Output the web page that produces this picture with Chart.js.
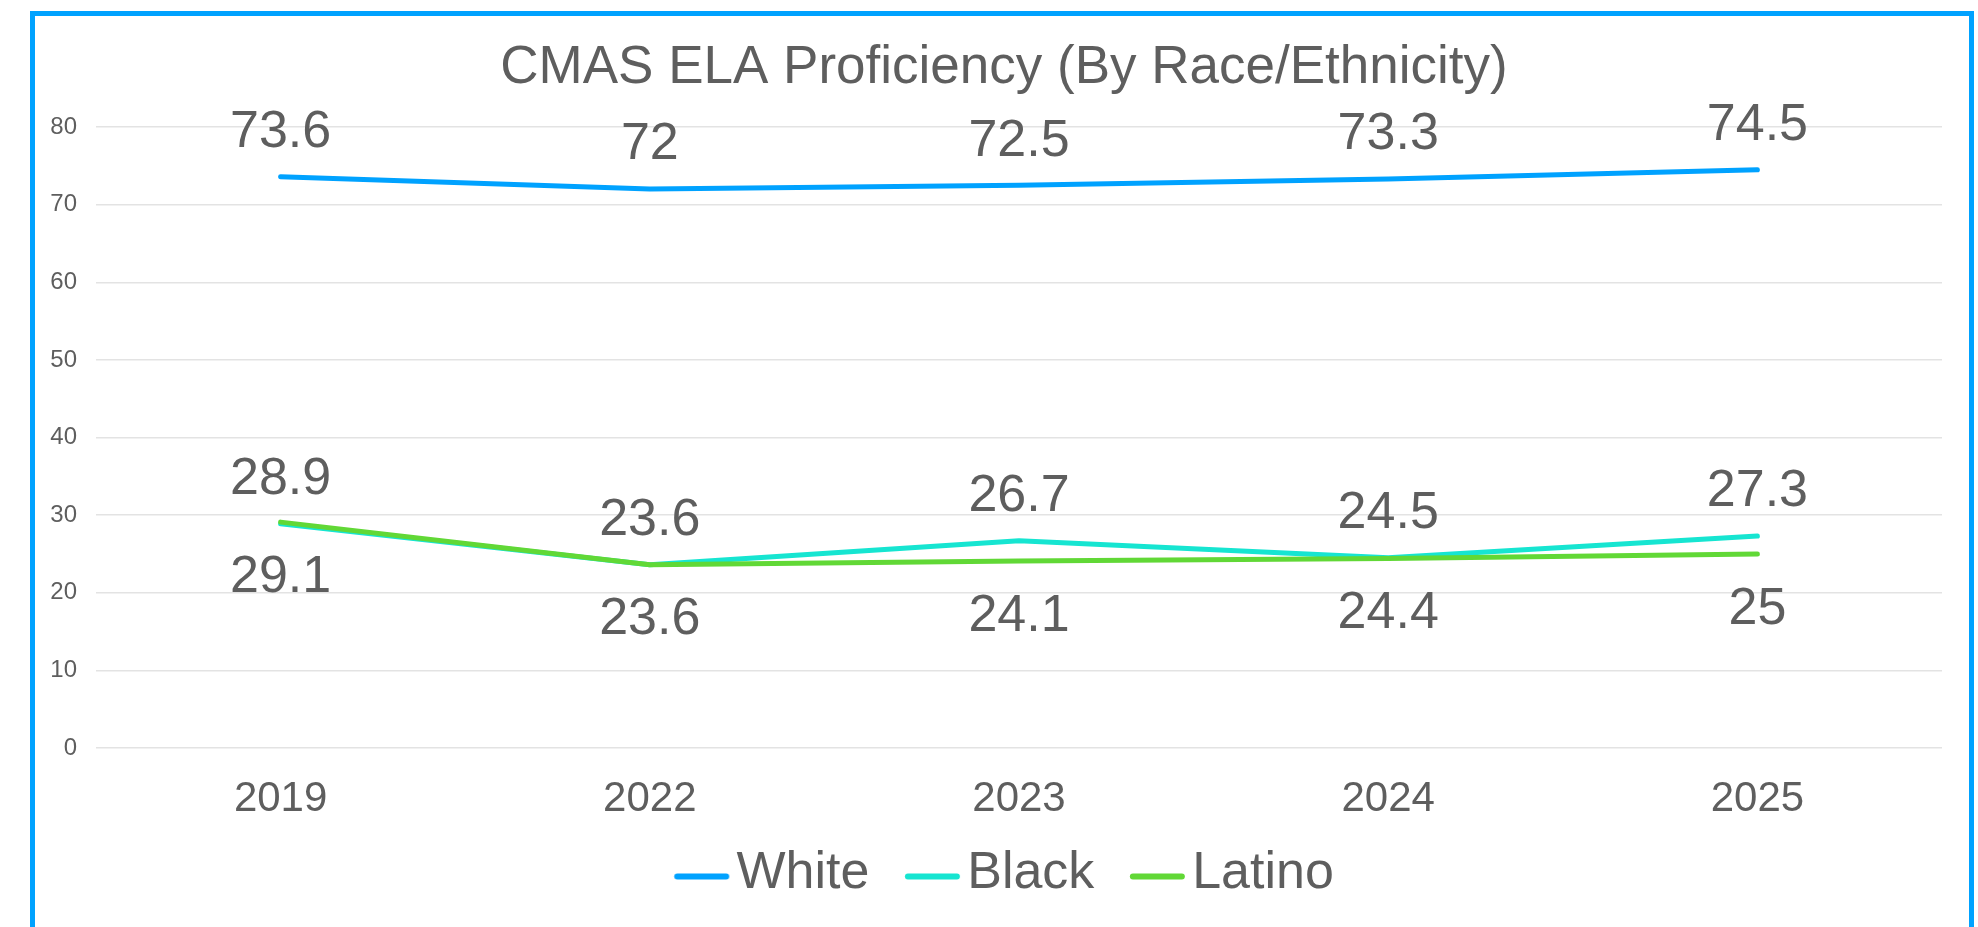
<!DOCTYPE html>
<html>
<head>
<meta charset="utf-8">
<script src="https://cdn.jsdelivr.net/npm/chart.js@4.4.1/dist/chart.umd.min.js"></script>
<style>
  html, body { margin: 0; padding: 0; width: 1978px; height: 927px; overflow: hidden; background: #ffffff; }
  #wrap { position: absolute; left: 0; top: 0; width: 1978px; height: 927px; }
  #frame { position: absolute; left: 30px; top: 11px; width: 1934px; height: 1000px; border: 5px solid #00A2FF; pointer-events: none; }
</style>
</head>
<body>
<div id="wrap"><canvas id="c" width="1978" height="927"></canvas></div>
<div id="frame"></div>
<script>
const years = ['2019', '2022', '2023', '2024', '2025'];
const whiteVals = [73.6, 72, 72.5, 73.3, 74.5];
const blackVals = [28.9, 23.6, 26.7, 24.5, 27.3];
const latinoVals = [29.1, 23.6, 24.1, 24.4, 25];
const seriesNames = ['White', 'Black', 'Latino'];
const labelSide = [-1, -1, 1]; // -1 above the point, 1 below
const titleText = 'CMAS ELA Proficiency (By Race/Ethnicity)';

const FONT = "'Liberation Sans', Arial, Helvetica, sans-serif";
const TEXT = '#5e5e5e';
const colors = ['#00A2FF', '#16E5D1', '#61D836'];

function swatch(color) {
  const c = document.createElement('canvas');
  c.width = 110; c.height = 20;
  const g = c.getContext('2d');
  g.strokeStyle = color;
  g.lineWidth = 6;
  g.lineCap = 'round';
  g.beginPath();
  g.moveTo(36.85 + 3, 12.5);
  g.lineTo(91.85 - 3, 12.5);
  g.stroke();
  return c;
}
const swatches = colors.map(swatch);

const titleDraw = {
  id: 'titleDraw',
  afterDraw(chart) {
    const ctx = chart.ctx;
    ctx.save();
    ctx.font = '53px ' + FONT;
    ctx.fillStyle = TEXT;
    ctx.textAlign = 'center';
    ctx.textBaseline = 'alphabetic';
    ctx.fillText(titleText, (chart.legend.left + chart.legend.right) / 2, 83);
    ctx.restore();
  }
};

const valueLabels = {
  id: 'valueLabels',
  afterDatasetsDraw(chart) {
    const ctx = chart.ctx;
    const fs = 52;
    ctx.save();
    ctx.font = fs + 'px ' + FONT;
    ctx.fillStyle = TEXT;
    ctx.textAlign = 'center';
    ctx.textBaseline = 'alphabetic';
    const half = 0.716 * fs / 2;
    chart.data.datasets.forEach((ds, i) => {
      const meta = chart.getDatasetMeta(i);
      meta.data.forEach((pt, j) => {
        const cy = pt.y + (labelSide[i] < 0 ? -48.3 : 51);
        ctx.fillText(String(ds.data[j]), pt.x, cy + half);
      });
    });
    ctx.restore();
  }
};

const mk = (name, data, color, order) => ({
  label: name,
  data: data,
  borderColor: color,
  backgroundColor: color,
  borderWidth: 5,
  borderCapStyle: 'round',
  borderJoinStyle: 'round',
  pointRadius: 0,
  pointHoverRadius: 0,
  tension: 0,
  fill: false,
  order: order
});

new Chart(document.getElementById('c'), {
  type: 'line',
  data: {
    labels: years,
    datasets: [
      mk(seriesNames[0], whiteVals, colors[0], 2),
      mk(seriesNames[1], blackVals, colors[1], 1),
      mk(seriesNames[2], latinoVals, colors[2], 0)
    ]
  },
  options: {
    responsive: false,
    animation: false,
    events: [],
    layout: { padding: { left: 66, right: 36, top: 127, bottom: 17 } },
    scales: {
      x: {
        offset: true,
        grid: { display: false, drawTicks: false },
        border: { display: false },
        ticks: { color: TEXT, font: { family: FONT, size: 42 }, padding: 26 },
        afterFit: s => { s.height = 64.5; }
      },
      y: {
        min: 0, max: 80,
        grid: { color: '#e3e3e3', lineWidth: 1.5, drawTicks: false },
        border: { display: false },
        ticks: { stepSize: 10, color: TEXT, font: { family: FONT, size: 24 }, padding: 19 },
        afterFit: s => { s.width = 30; s._computeLabelArea = () => undefined; }
      }
    },
    plugins: {
      title: { display: false },
      legend: {
        display: true,
        position: 'bottom',
        labels: {
          color: TEXT,
          font: { family: FONT, size: 52 },
          usePointStyle: true,
          pointStyleWidth: 36.3,
          boxHeight: 20,
          padding: 35.5,
          sort: (a, b) => a.datasetIndex - b.datasetIndex,
          generateLabels: chart => Chart.defaults.plugins.legend.labels.generateLabels(chart).map(it => Object.assign({}, it, {
            lineWidth: 0,
            pointStyle: swatches[it.datasetIndex],
            rotation: 0
          }))
        }
      },
      tooltip: { enabled: false }
    }
  },
  plugins: [valueLabels, titleDraw]
});
</script>
</body>
</html>
